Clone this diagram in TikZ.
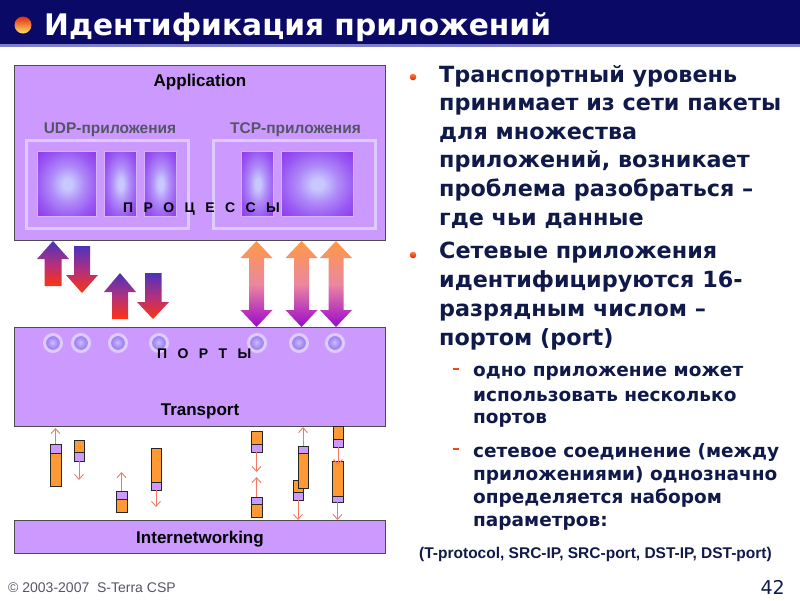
\documentclass[tikz,border=0pt]{standalone}
\usepackage{fontspec}
\setmainfont{Liberation Sans}
\newfontfamily\dvb{DejaVu Sans}
\usetikzlibrary{arrows.meta}
\definecolor{navy}{HTML}{0A0A66}
\definecolor{titleline}{HTML}{7F7FCC}
\definecolor{appfill}{HTML}{CC99FF}
\definecolor{grpline}{HTML}{DDCCFF}
\definecolor{rimc}{HTML}{D4B4FF}
\definecolor{boxout}{HTML}{8A30EE}
\definecolor{boxin}{HTML}{C8C8FF}
\definecolor{ballin}{HTML}{C8C4FF}
\definecolor{ballout}{HTML}{9468EE}
\definecolor{pktor}{HTML}{FF9933}
\definecolor{pktarrow}{HTML}{F07864}
\definecolor{txtnavy}{HTML}{101A4A}
\definecolor{graylbl}{HTML}{555566}
\definecolor{bulletc}{HTML}{F04A1A}
\definecolor{upblue}{HTML}{4A33BB}
\definecolor{upred}{HTML}{FF3311}
\definecolor{upmid}{HTML}{B03080}
\definecolor{dorange}{HTML}{FF9944}
\definecolor{dmid}{HTML}{EB87A0}
\definecolor{dpurple}{HTML}{9A08CC}
\definecolor{balltop}{HTML}{E22A10}
\definecolor{ballbot}{HTML}{FFE066}
\definecolor{bultop}{HTML}{FF8040}
\definecolor{bulbot}{HTML}{DD2200}
\pgfdeclareradialshading{procshade}{\pgfpoint{0bp}{0bp}}{color(0bp)=(boxin); color(4bp)=(boxin); color(14bp)=(boxout!40!boxin); color(26bp)=(boxout!75!boxin); color(38bp)=(boxout); color(50bp)=(boxout)}
\pgfdeclareradialshading{portshade}{\pgfpoint{-2bp}{2bp}}{color(0bp)=(ballin); color(12bp)=(ballout!55!ballin); color(30bp)=(ballout); color(50bp)=(ballout)}
\newcommand\titlefnt{\dvb\bfseries\fontsize{29.7}{32}\selectfont}
\newcommand\mainfnt{\dvb\bfseries\fontsize{22.3}{26}\selectfont}
\newcommand\subfnt{\dvb\bfseries\fontsize{18.5}{22}\selectfont}
\newcommand\lblfnt{\bfseries\fontsize{17}{20}\selectfont}
\newcommand\grpfnt{\bfseries\fontsize{15.5}{18}\selectfont}
\newcommand\spfnt{\bfseries\fontsize{14}{16}\selectfont}
\newcommand\gp{\hspace{10.4pt}}
\newcommand\pktT[6]{%
  \node[pkt, minimum width=#4pt, minimum height=#5pt+#6pt] (#1) at (#2,#3) {};
  \filldraw[fill=appfill, draw=black!85, line width=0.8pt] (#1.north west) rectangle ([yshift=-#5pt]#1.north east);}
\newcommand\pktB[6]{%
  \node[pkt, minimum width=#4pt, minimum height=#5pt+#6pt] (#1) at (#2,#3) {};
  \filldraw[fill=appfill, draw=black!85, line width=0.8pt] (#1.south west) rectangle ([yshift=#6pt]#1.south east);}
\tikzset{
  layer/.style={draw=black!70, line width=0.9pt, fill=appfill, anchor=north west, inner sep=0pt, outer sep=0pt},
  grp/.style={draw=grpline, line width=2.5pt, anchor=north west, inner sep=0pt},
  proc/.style={anchor=north west, draw=rimc, line width=1.2pt, shading=procshade, inner sep=0pt},
  port/.style={circle, minimum size=17pt, draw=grpline, line width=3pt, shading=portshade, inner sep=0pt},
  pkt/.style={draw=black!85, line width=0.8pt, fill=pktor, anchor=north west, inner sep=0pt, outer sep=0pt},
  parr/.style={draw=pktarrow, line width=0.9pt, -{Straight Barb[length=5pt,width=9pt]}},
  lbl/.style={font=\lblfnt, text=black, inner sep=0pt, anchor=base},
  grplbl/.style={font=\grpfnt, text=graylbl, inner sep=0pt, anchor=base},
  sp/.style={font=\spfnt, text=black, inner sep=0pt, anchor=base west},
  mainln/.style={font=\mainfnt, text=txtnavy, inner sep=0pt, anchor=base west},
  subln/.style={font=\subfnt, text=txtnavy, inner sep=0pt, anchor=base west},
  upgrad/.style={top color=upblue, bottom color=upred, middle color=upmid},
  dgrad/.style={top color=dorange, bottom color=dpurple, middle color=dmid},
}
\begin{document}
\begin{tikzpicture}[x=1pt,y=-1pt]
\useasboundingbox (0,0) rectangle (800,600);
\fill[white] (0,0) rectangle (800,600);
% title bar
\fill[navy] (0,0) rectangle (800,44);
\fill[titleline] (0,44) rectangle (800,47);
\shade[top color=balltop, bottom color=ballbot] (23,25) circle (8.5);
\node[font=\titlefnt, text=white, anchor=base west, inner sep=0pt] (title) at (44,35) {Идентификация приложений};

% layers
\node[layer, minimum width=371pt, minimum height=175pt] (app) at (14,65) {};
\node[layer, minimum width=371pt, minimum height=99pt] (transport) at (14,327) {};
\node[layer, minimum width=371pt, minimum height=33pt] (inet) at (14,520) {};
\node[lbl] (applbl) at (200,86) {Application};
\node[lbl] (trlbl) at (200,415) {Transport};
\node[lbl] (inlbl) at (200,543) {Internetworking};

% groups
\node[grplbl] (udplbl) at (110,133) {UDP-приложения};
\node[grplbl] (tcplbl) at (295.5,133) {TCP-приложения};
\node[grp, minimum width=162pt, minimum height=88pt] (udp) at (25,139) {};
\node[grp, minimum width=162pt, minimum height=88pt] (tcp) at (212,139) {};
\node[proc, minimum width=59pt, minimum height=65pt] (u1) at (37,151) {};
\node[proc, minimum width=32pt, minimum height=65pt] (u2) at (104,151) {};
\node[proc, minimum width=32pt, minimum height=65pt] (u3) at (144,151) {};
\node[proc, minimum width=32pt, minimum height=65pt] (t1) at (241,151) {};
\node[proc, minimum width=72pt, minimum height=65pt] (t2) at (281,151) {};
\node[sp] (proc) at (123,212) {П\gp Р\gp О\gp Ц\gp Е\gp С\gp С\gp Ы};

% ports
\foreach \i/\x in {1/53,2/81,3/118,4/159,5/257,6/299,7/335}
  \node[port] (port\i) at (\x,343) {};
\node[sp] (portlbl) at (157,358) {П\gp О\gp Р\gp Т\gp Ы};

% block arrows (UDP)
\shade[upgrad] (53,241) -- (69,259) -- (61.5,259) -- (61.5,286) -- (44.5,286) -- (44.5,259) -- (37,259) -- cycle;
\shade[upgrad] (74,246) -- (90,246) -- (90,275) -- (98,275) -- (82,293) -- (66,275) -- (74,275) -- cycle;
\shade[upgrad] (120,273) -- (136,292) -- (128,292) -- (128,319) -- (112,319) -- (112,292) -- (104,292) -- cycle;
\shade[upgrad] (145,273) -- (161.5,273) -- (161.5,302) -- (169,302) -- (153,319) -- (137,302) -- (145,302) -- cycle;
% block arrows (TCP)
\foreach \c in {256.5,301.5,336}
  \shade[dgrad] (\c,241) -- (\c+16,258) -- (\c+7.5,258) -- (\c+7.5,310) -- (\c+16,310) -- (\c,327)
     -- (\c-16,310) -- (\c-7.5,310) -- (\c-7.5,258) -- (\c-16,258) -- cycle;

% packets
\pktT{p1}{50}{444}{11}{9}{33}
\pktB{p2}{74}{440}{10}{12}{9}
\pktT{p3}{116}{491}{11}{8}{13}
\pktB{p4}{151}{448}{10}{34}{8}
\pktB{p5}{251}{431}{11}{13}{8}
\pktT{p6}{251}{497}{11}{7}{13}
\pktB{p7}{293}{480}{10}{12}{8}
\pktT{p8}{298}{446}{10}{7}{35}
\pktB{p9}{333}{426}{10}{13}{8}
\pktB{p10}{332}{461}{11}{35}{6}
\coordinate (e1) at (55.5,428);
\coordinate (e2) at (79,480);
\coordinate (e3) at (121.5,472);
\coordinate (e4) at (156,507);
\coordinate (e5) at (256.5,472);
\coordinate (e6) at (256.5,477);
\coordinate (e7) at (298,520);
\coordinate (e8) at (303,427);
\coordinate (e9) at (338,465);
\coordinate (e10) at (337.5,520);
\draw[parr] (p1.north) -- (p1.north |- e1);
\draw[parr] (p2.south) -- (p2.south |- e2);
\draw[parr] (p3.north) -- (p3.north |- e3);
\draw[parr] (p4.south) -- (p4.south |- e4);
\draw[parr] (p5.south) -- (p5.south |- e5);
\draw[parr] (p6.north) -- (p6.north |- e6);
\draw[parr] (p7.south) -- (p7.south |- e7);
\draw[parr] (p8.north) -- (p8.north |- e8);
\draw[parr] (p9.south) -- (p9.south |- e9);
\draw[parr] (p10.south) -- (p10.south |- e10);

% right text
\shade[top color=bultop, bottom color=bulbot] (413,77) circle (3.3);
\node[mainln] (a1) at (439,82) {Транспортный уровень};
\node[mainln] (a2) at (439,110.6) {принимает из сети пакеты};
\node[mainln] (a3) at (439,139.2) {для множества};
\node[mainln] (a4) at (439,167.8) {приложений, возникает};
\node[mainln] (a5) at (439,196.4) {проблема разобраться –};
\node[mainln] (a6) at (439,225) {где чьи данные};
\shade[top color=bultop, bottom color=bulbot] (413,255) circle (3.3);
\node[mainln] (b1) at (439,258) {Сетевые приложения};
\node[mainln] (b2) at (439,287) {идентифицируются 16-};
\node[mainln] (b3) at (439,316) {разрядным числом –};
\node[mainln] (b4) at (439,345) {портом (port)};
\draw[bulletc, line width=1.6pt] (453,369) -- (458.5,369);
\node[subln] (c1) at (473,376) {одно приложение может};
\node[subln] (c2) at (473,401) {использовать несколько};
\node[subln] (c3) at (473,423) {портов};
\draw[bulletc, line width=1.6pt] (453,449) -- (458.5,449);
\node[subln] (d1) at (473,457) {сетевое соединение (между};
\node[subln] (d2) at (473,480) {приложениями) однозначно};
\node[subln] (d3) at (473,503) {определяется набором};
\node[subln] (d4) at (473,526) {параметров:};
\node[font=\bfseries\fontsize{15.5}{17}\selectfont, text=txtnavy, anchor=base west, inner sep=0pt] (tuple) at (419,558) {(T-protocol, SRC-IP, SRC-port, DST-IP, DST-port)};

% footer
\node[font=\fontsize{14}{15}\selectfont, text=graylbl, anchor=base west, inner sep=0pt] (copy) at (8,592) {© 2003-2007\ \ S-Terra CSP};
\node[font=\dvb\fontsize{19}{21}\selectfont, text=txtnavy, anchor=base east, inner sep=0pt] (pg) at (785,594) {42};
\end{tikzpicture}
\end{document}
